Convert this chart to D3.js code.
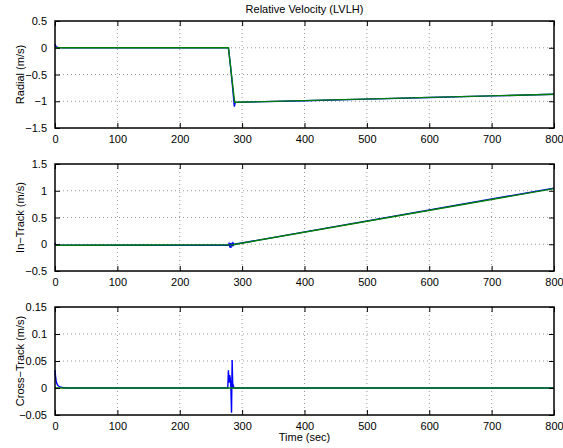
<!DOCTYPE html>
<html>
<head>
<meta charset="utf-8">
<script src="https://cdn.jsdelivr.net/npm/d3@7"></script>
<style>
  body { margin: 0; background: #fff; }
  svg { font-family: "Liberation Sans", Arial, sans-serif; }
  .grid line { stroke: #999; stroke-dasharray: 1 3; stroke-width: 1; }
</style>
</head>
<body>
<svg id="chart" width="563" height="448"></svg>
<script>
// --- DATA ---
const X_TICKS = [0, 100, 200, 300, 400, 500, 600, 700, 800];

// radial
const radialTimeBlue = [0, 1, 2, 3, 5, 8, 12, 20, 100, 200, 278, 281, 284, 286, 287.5, 288.5, 290, 400, 500, 600, 700, 800];
const radialBlue     = [0.07, 0.04, 0.02, 0.01, 0.005, 0.002, 0, 0, -0.003, -0.003, 0, -0.3, -0.65, -0.9, -1.1, -1.04, -1.02, -0.99, -0.96, -0.93, -0.9, -0.87];
const radialTimeGreen = [0, 278, 288, 800];
const radialGreen     = [0, 0, -1.02, -0.87];
const radialTicks = [-1.5, -1, -0.5, 0, 0.5];

// in-track
const inTrackTimeBlue = [0, 1, 2, 4, 8, 100, 278, 279, 280, 281, 282, 283, 284, 285, 286, 287, 288, 800];
const inTrackBlue     = [0.02, 0.0, -0.01, -0.02, -0.02, -0.02, -0.02, 0.01, -0.03, 0.02, -0.07, 0.0, 0.02, -0.04, 0.01, -0.01, 0.0, 1.05];
const inTrackTimeGreen = [0, 285, 800];
const inTrackGreen     = [-0.02, -0.01, 1.04];
const inTrackTicks = [-0.5, 0, 0.5, 1, 1.5];

// cross-track
const crossTimeBlue = [0, 1, 2, 3, 5, 8, 12, 20, 277, 278, 279, 280, 281, 282, 283, 284, 285, 286, 287, 800];
const crossBlue     = [0.033, 0.02, 0.012, 0.008, 0.004, 0.002, 0.001, 0, 0, 0.033, 0.01, 0.024, 0.018, 0, -0.046, 0.052, 0, 0.004, 0, 0];
const crossTimeGreen = [0, 800];
const crossGreen     = [0, 0];
const crossTicks = [-0.05, 0, 0.05, 0.1, 0.15];

// --- CONFIG ---
const LEFT = 55, RIGHT = 554;
const panels = [
  { top: 21, bottom: 128, label: "Radial (m/s)", ticks: radialTicks, fmt: d => d === 0 ? "0" : String(d).replace("-", "\u2212"),
    series: [[radialTimeBlue, radialBlue, "#0000ff"], [radialTimeGreen, radialGreen, "#008000"]] },
  { top: 164, bottom: 271, label: "In\u2212Track (m/s)", ticks: inTrackTicks, fmt: d => String(d).replace("-", "\u2212"),
    series: [[inTrackTimeBlue, inTrackBlue, "#0000ff"], [inTrackTimeGreen, inTrackGreen, "#008000"]] },
  { top: 307, bottom: 415, label: "Cross\u2212Track (m/s)", ticks: crossTicks, fmt: d => String(d).replace("-", "\u2212"),
    series: [[crossTimeBlue, crossBlue, "#0000ff"], [crossTimeGreen, crossGreen, "#008000"]] }
];

const svg = d3.select("#chart");
const x = d3.scaleLinear().domain([0, 800]).range([LEFT, RIGHT]);

panels.forEach(p => {
  const ext = d3.extent(p.ticks);
  const y = d3.scaleLinear().domain(ext).range([p.bottom, p.top]);
  const g = svg.append("g");

  // grid
  const grid = g.append("g").attr("class", "grid");
  grid.selectAll(".gx").data(X_TICKS.slice(1, -1)).join("line")
    .attr("x1", d => x(d)).attr("x2", d => x(d)).attr("y1", p.top).attr("y2", p.bottom);
  grid.selectAll(".gy").data(p.ticks.slice(1, -1)).join("line")
    .attr("class", "gy")
    .attr("x1", LEFT).attr("x2", RIGHT).attr("y1", d => y(d)).attr("y2", d => y(d));

  // lines
  p.series.forEach(([t, v, color]) => {
    const pts = t.map((tt, i) => [tt, v[i]]);
    g.append("path").datum(pts)
      .attr("fill", "none").attr("stroke", color).attr("stroke-width", 1.4)
      .attr("d", d3.line().x(d => x(d[0])).y(d => y(d[1])));
  });

  // axes (MATLAB style: ticks inside, box)
  const ax = d3.axisBottom(x).tickValues(X_TICKS).tickSizeInner(-5).tickSizeOuter(0).tickPadding(8);
  const axB = g.append("g").attr("transform", `translate(0,${p.bottom})`).call(ax);
  const axT = g.append("g").attr("transform", `translate(0,${p.top})`)
    .call(d3.axisTop(x).tickValues(X_TICKS).tickSizeInner(-5).tickSizeOuter(0).tickFormat(""));
  const axL = g.append("g").attr("transform", `translate(${LEFT},0)`)
    .call(d3.axisLeft(y).tickValues(p.ticks).tickSizeInner(-5).tickSizeOuter(0).tickPadding(8).tickFormat(p.fmt));
  const axR = g.append("g").attr("transform", `translate(${RIGHT},0)`)
    .call(d3.axisRight(y).tickValues(p.ticks).tickSizeInner(-5).tickSizeOuter(0).tickFormat(""));
  [axB, axT, axL, axR].forEach(a => {
    a.select(".domain").remove();
    a.selectAll("line").attr("stroke", "#000").attr("stroke-width", 1);
    a.selectAll("text").attr("font-size", 11).attr("fill", "#000").attr("font-family", "Liberation Sans, Arial, sans-serif");
  });
  axB.selectAll("text").attr("dy", "0.6em");

  g.append("rect").attr("x", LEFT).attr("y", p.top).attr("width", RIGHT - LEFT).attr("height", p.bottom - p.top)
    .attr("fill", "none").attr("stroke", "#000").attr("stroke-width", 1.5);

  g.append("text")
    .attr("transform", `translate(24,${(p.top + p.bottom) / 2}) rotate(-90)`)
    .attr("text-anchor", "middle").attr("font-size", 11).text(p.label);
});

svg.append("text").attr("x", (LEFT + RIGHT) / 2).attr("y", 13).attr("text-anchor", "middle")
  .attr("font-size", 11).text("Relative Velocity (LVLH)");
svg.append("text").attr("x", (LEFT + RIGHT) / 2).attr("y", 441).attr("text-anchor", "middle")
  .attr("font-size", 11).text("Time (sec)");
</script>
</body>
</html>
